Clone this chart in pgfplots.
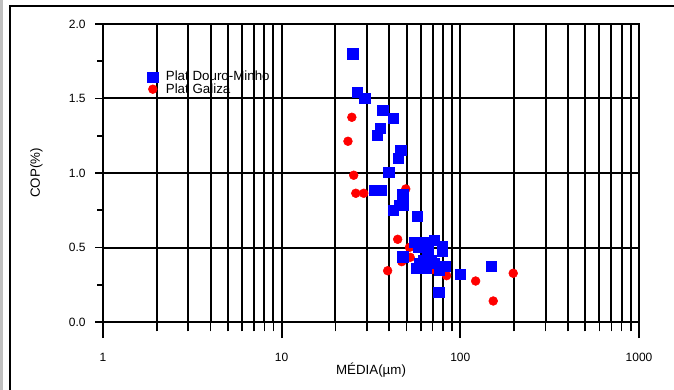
\documentclass[border=0pt]{standalone}
\usepackage{fontspec}
\setmainfont{Liberation Sans}
\usepackage{pgfplots}
\pgfplotsset{compat=1.18}
\begin{document}
\begin{tikzpicture}
\useasboundingbox (-77.25pt,-50.25pt) rectangle (428.25pt,241.5pt);
\fill[black!25] (-77.25pt,-60pt) rectangle (-75.25pt,241.5pt);
\draw[line width=1.4pt] (-69.75pt,-60pt) -- (-69.75pt,237pt) -- (440pt,237pt);
\begin{axis}[
  scale only axis, width=402pt, height=223.5pt,
  xmode=log, xmin=1, xmax=1000, ymin=0, ymax=2,
  xtick={1,10,100,1000}, xticklabels={1,10,100,1000},
  ytick={0,0.5,1,1.5,2}, yticklabels={},
  xmajorgrids, xminorgrids, ymajorgrids,
  major grid style={black, line width=1.5pt},
  minor grid style={black, line width=1.5pt},
  axis line style={line width=1.6pt},
  tick align=outside, xtick pos=bottom, ytick pos=left,
  major tick length=12pt, minor tick length=7pt,
  every tick/.style={black, line width=1.2pt},
  ytick style={draw=none},
  tick label style={font=\fontsize{9}{10}\selectfont},
  /pgf/number format/assume math mode=true,
  xticklabel style={yshift=-8pt},
  xlabel={MÉDIA(µm)},
  every axis x label/.style={at={(axis description cs:0.5,-0.161)}, anchor=center},
  label style={font=\fontsize{10}{12}\selectfont},
  legend cell align=left,
  legend style={at={(axis description cs:0.083,0.852)}, anchor=north west, draw=none, fill=none,
     font=\fontsize{10}{11}\selectfont, row sep=-3.5pt, inner sep=0pt,
     /tikz/every odd column/.append style={column sep=4pt}},
  reverse legend,
  clip=false,
]
% major x tick marks below the axis
\addplot[black, line width=1.5pt, forget plot] coordinates {(1,0) (1,-0.108)};
\addplot[black, line width=1.5pt, forget plot] coordinates {(10,0) (10,-0.108)};
\addplot[black, line width=1.5pt, forget plot] coordinates {(100,0) (100,-0.108)};
\addplot[black, line width=1.5pt, forget plot] coordinates {(1000,0) (1000,-0.108)};
\addplot[only marks, mark=*, mark size=3.3pt, color=red] coordinates {
(24.7,1.374) (23.5,1.213) (25.3,0.985) (26.0,0.864) (28.8,0.864) (49.5,0.893)
(44.6,0.555) (51.9,0.501) (52.4,0.434) (47.0,0.405) (39.2,0.344) (83.8,0.311)
(121.8,0.275) (152.8,0.141) (197.7,0.327) (69.8,0.352)
};
\addlegendentry{Plat Galiza}
\addplot[only marks, mark=square*, mark size=3.8pt, color=blue] coordinates {
(25.0,1.80) (26.4,1.544) (29.2,1.50) (36.8,1.42) (42.2,1.37) (35.7,1.30)
(34.1,1.255) (46.4,1.155) (45.0,1.10) (39.8,1.007) (33.2,0.886) (36.2,0.886)
(47.6,0.859) (45.4,0.785) (48.0,0.785) (41.9,0.752) (57.5,0.711) (55.3,0.535)
(62.9,0.535) (71.6,0.55) (79.6,0.51) (79.6,0.472) (58.5,0.505) (47.6,0.438)
(66.5,0.472) (62.1,0.416) (68.6,0.416) (59.0,0.394) (71.6,0.394) (56.5,0.36)
(64.3,0.36) (76.3,0.35) (82.1,0.376) (100.4,0.32) (149.6,0.374) (75.7,0.20)
(65.7,0.438)
};
\addlegendentry{Plat Douro-Minho}
\end{axis}
\begin{axis}[
  scale only axis, width=402pt, height=223.5pt,
  xmode=log, xmin=1, xmax=1000, ymin=0, ymax=2,
  xtick=\empty, ytick={0,0.5,1,1.5,2}, yticklabels={0.0,0.5,1.0,1.5,2.0},
  minor ytick={0.25,0.75,1.25,1.75},
  axis line style={draw=none},
  tick align=outside, ytick pos=left,
  major tick length=6pt, minor tick length=4.5pt,
  every tick/.style={black, line width=1.2pt},
  tick label style={font=\fontsize{9}{10}\selectfont},
  /pgf/number format/assume math mode=true,
  yticklabel style={xshift=-3.5pt},
  ylabel={COP(\%)},
  every axis y label/.style={at={(axis description cs:-0.1244,0.5)}, rotate=90, anchor=center},
  label style={font=\fontsize{10}{12}\selectfont},
]
\end{axis}
\end{tikzpicture}
\end{document}
